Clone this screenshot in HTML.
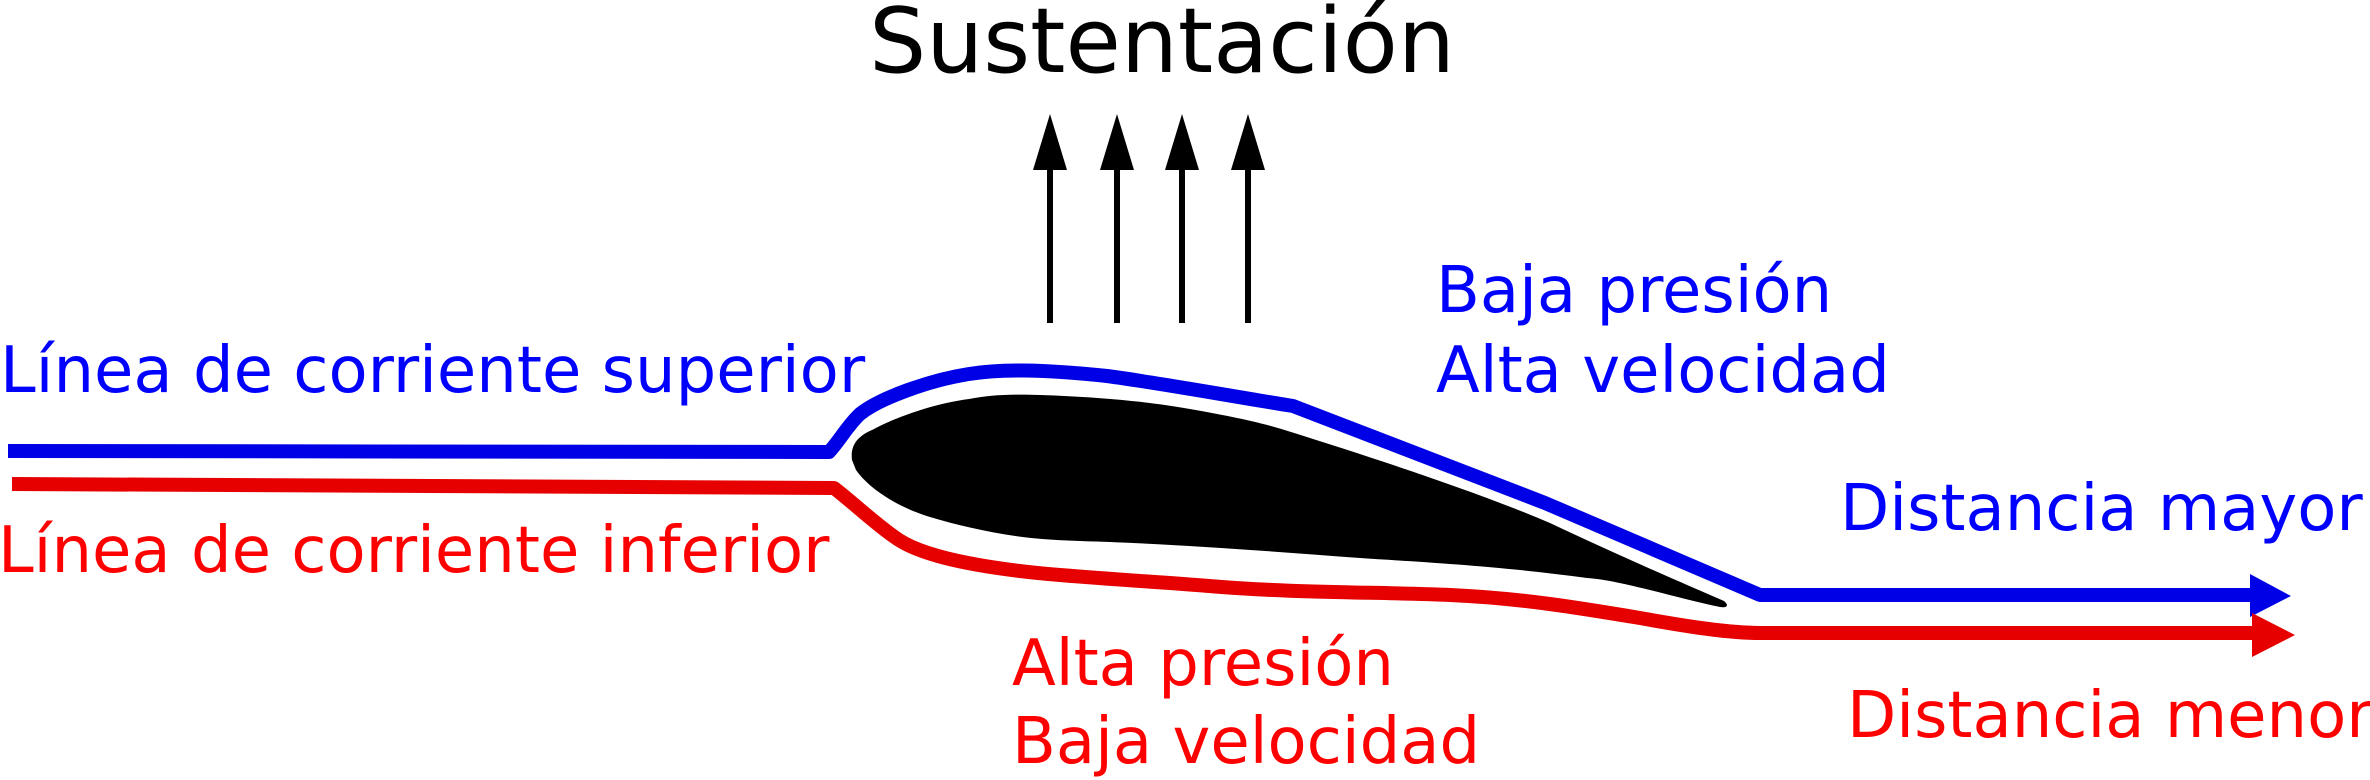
<!DOCTYPE html>
<html><head><meta charset="utf-8"><style>
html,body{margin:0;padding:0;background:#fff;width:2370px;height:780px;overflow:hidden}
svg{display:block}
text{font-family:"DejaVu Sans","Liberation Sans",sans-serif}
</style></head><body>
<svg width="2370" height="780" viewBox="0 0 2370 780" xmlns="http://www.w3.org/2000/svg">
<text x="1162" y="72" font-size="90" text-anchor="middle" fill="#000">Sustentación</text>
<g stroke="#000" stroke-width="6">
<line x1="1050" y1="165" x2="1050" y2="323"/>
<line x1="1117" y1="165" x2="1117" y2="323"/>
<line x1="1182" y1="165" x2="1182" y2="323"/>
<line x1="1248" y1="165" x2="1248" y2="323"/>
</g>
<g fill="#000">
<polygon points="1050,114 1067,170 1033,170"/>
<polygon points="1117,114 1134,170 1100,170"/>
<polygon points="1182,114 1199,170 1165,170"/>
<polygon points="1248,114 1265,170 1231,170"/>
</g>
<!-- airfoil -->
<path fill="#000" d="M852,460 C850,445 858,436 872,430 C890,420 930,404 969,399 C990,395 1010,394 1040,395 C1100,397 1150,402 1184,408 C1230,416 1260,422 1291,432 C1380,460 1480,493 1550,523 C1620,556 1680,582 1724,601 C1730,606 1726,608 1720,607 C1680,599 1620,580 1587,578 C1500,566 1420,562 1360,558 C1280,552 1200,546 1133,543 C1090,541 1060,541 1031,538 C995,534 960,526 930,517 C900,508 870,490 856,470 Z"/>
<!-- upper streamline -->
<path fill="none" stroke="#0000e6" stroke-width="14" stroke-linejoin="round" d="M8,451 L829,452 C840,440 848,425 860,414 C880,398 930,380 969,374 C1000,369 1040,369 1107,376 C1160,383 1230,396 1293,406 L1545,503 L1760,595 L2252,595"/>
<polygon fill="#0000e6" points="2250,574 2291,596 2250,617"/>
<!-- lower streamline -->
<path fill="none" stroke="#e60000" stroke-width="14" stroke-linejoin="round" d="M12,484 L834,488 C850,500 880,528 899,540 C930,560 1000,570 1060,575 C1120,580 1160,582 1209,586 C1290,593 1380,592 1450,595 C1520,598 1580,608 1640,618 C1690,627 1730,633 1760,633 L2254,633"/>
<polygon fill="#e60000" points="2252,613 2295,635 2252,657"/>
<g font-size="64" fill="#0000ff">
<text x="0" y="392">Línea de corriente superior</text>
<text x="1436" y="312">Baja presión</text>
<text x="1436" y="392">Alta velocidad</text>
<text x="1840" y="530">Distancia mayor</text>
</g>
<g font-size="64" fill="#ff0000">
<text x="-2" y="572">Línea de corriente inferior</text>
<text x="1012" y="685">Alta presión</text>
<text x="1012" y="763">Baja velocidad</text>
<text x="1847" y="737">Distancia menor</text>
</g>
</svg>
</body></html>
